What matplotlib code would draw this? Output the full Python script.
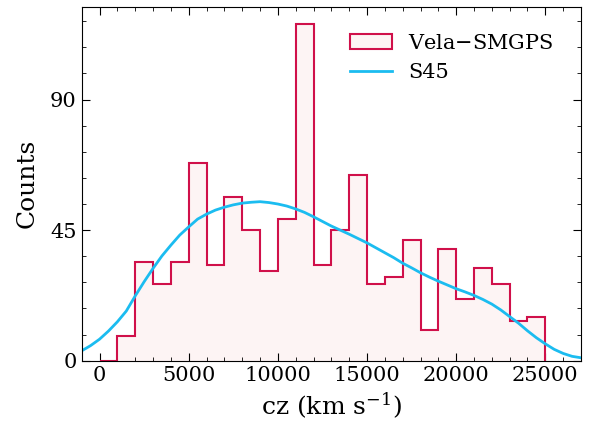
import numpy as np
import matplotlib
matplotlib.use("Agg")
import matplotlib.pyplot as plt
from matplotlib.patches import Patch
from matplotlib.lines import Line2D
from matplotlib.ticker import MultipleLocator

# histogram: bin edges (km/s) and counts
bin_edges = np.arange(0, 26000, 1000)
counts = [0, 8.5, 34.1, 26.6, 34.0, 68.2, 33.0, 56.5, 44.9, 30.9, 49.0, 116.2,
          32.9, 44.9, 63.9, 26.6, 28.8, 41.6, 10.6, 38.5, 21.2, 32.0, 26.6,
          13.8, 14.9]

# S45 model curve
s45_cz = [-1000, -500, 0, 500, 1000, 1500, 2000, 2500, 3000, 3500, 4000,
          4500, 5000, 5500, 6000, 6500, 7000, 7500, 8000, 8500, 9000, 9500,
          10000, 10500, 11000, 11500, 12000, 12500, 13000, 13500, 14000,
          14500, 15000, 15500, 16000, 16500, 17000, 17500, 18000, 18500,
          19000, 19500, 20000, 20500, 21000, 21500, 22000, 22500, 23000,
          23500, 24000, 24500, 25000, 25500, 26000, 26500, 27000]
s45_n = [3.4, 5.2, 7.4, 10.2, 13.4, 17.1, 22.3, 27.2, 31.8, 36.1, 39.8,
         43.3, 46.1, 48.8, 50.5, 51.9, 52.9, 53.7, 54.3, 54.6, 54.8, 54.5,
         54.0, 53.3, 52.3, 51.1, 49.6, 48.0, 46.4, 45.0, 43.6,
         42.1, 40.6, 38.9, 37.2, 35.5, 33.6, 32.0, 30.3, 28.8,
         27.4, 26.1, 24.8, 23.7, 22.5, 21.1, 19.5, 17.5, 15.2,
         12.9, 10.3, 7.9, 5.8, 3.9, 2.5, 1.5, 1.0]

plt.rcParams['font.family'] = 'DejaVu Serif'
plt.rcParams['mathtext.fontset'] = 'dejavuserif'

red = '#d0104a'
fill = '#fdf4f4'
blue = '#1bbcf0'

fig = plt.figure(figsize=(5.89, 4.22), dpi=100)
ax = fig.add_axes([0.1387, 0.1453, 0.8477, 0.8388])

# fill, then the outline on its own (no red line along the baseline)
ax.hist(bin_edges[:-1], bins=bin_edges, weights=counts, histtype='stepfilled',
        facecolor=fill, edgecolor='none')
ax.hist(bin_edges[:-1], bins=bin_edges, weights=counts, histtype='step',
        color=red, lw=1.5)
ax.plot(s45_cz, s45_n, c=blue, lw=2)

ax.set_xlim(-1000, 27000)
ax.set_ylim(0, 122)
ax.set_yticks([0, 45, 90])
ax.xaxis.set_major_locator(MultipleLocator(5000))
ax.xaxis.set_minor_locator(MultipleLocator(1000))
ax.yaxis.set_minor_locator(MultipleLocator(9))
ax.tick_params(which='both', direction='in', top=True, right=True, labelsize=15)
ax.tick_params(which='major', length=6)
ax.tick_params(which='minor', length=3)

ax.set_xlabel('cz (km s$^{-1}$)', fontsize=18, labelpad=4.5)
ax.set_ylabel('Counts', fontsize=18, labelpad=8)

handles = [Patch(facecolor=fill, edgecolor=red, lw=1.5),
           Line2D([], [], c=blue, lw=2)]
ax.legend(handles, ['Vela$-$SMGPS', 'S45'], loc='upper right',
          frameon=False, fontsize=15, borderaxespad=0.9)

fig.savefig('out.png', dpi=100)
